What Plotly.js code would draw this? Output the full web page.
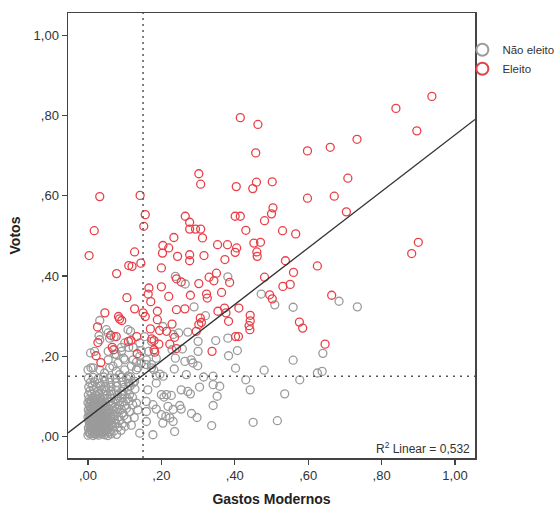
<!DOCTYPE html>
<html><head><meta charset="utf-8">
<script src="https://cdn.plot.ly/plotly-3.0.1.min.js"></script>
<style>html,body{margin:0;padding:0;background:#fff}</style>
</head><body><div id="chart" style="width:555px;height:509px"></div>
<script>
// Eleito (red)
const eleitoX = [
0.937,0.839,0.896,0.733,0.660,0.598,0.708,0.671,0.598,0.415,
0.463,0.457,0.302,0.307,0.404,0.459,0.449,0.502,0.032,0.142,
0.017,0.003,0.156,0.152,0.127,0.144,0.265,0.277,0.277,0.293,
0.307,0.312,0.234,0.204,0.220,0.203,0.244,0.277,0.277,0.316,
0.353,0.380,0.405,0.401,0.452,0.470,0.460,0.461,0.430,0.401,
0.415,0.504,0.500,0.481,0.530,0.566,0.704,0.900,0.882,0.538,
0.625,0.560,0.531,0.551,0.495,0.502,0.664,0.576,0.585,0.646,
0.373,0.200,0.241,0.254,0.302,0.330,0.350,0.343,0.386,0.481,
0.200,0.220,0.279,0.323,0.325,0.364,0.189,0.241,0.264,0.354,
0.372,0.376,0.411,0.383,0.189,0.229,0.195,0.214,0.306,0.309,
0.302,0.295,0.236,0.193,0.223,0.241,0.338,0.402,0.410,0.442,
0.442,0.439,0.441,0.111,0.120,0.078,0.166,0.164,0.171,0.106,
0.127,0.150,0.156,0.046,0.083,0.086,0.092,0.026,0.027,0.022,
0.035,0.062,0.077,0.133,0.110,0.117,0.066,0.070,0.134,0.170,
0.174,0.180,0.180,0.182
];
const eleitoY = [
0.848,0.818,0.762,0.741,0.721,0.712,0.644,0.599,0.594,0.795,
0.778,0.707,0.655,0.629,0.623,0.634,0.618,0.635,0.598,0.601,
0.513,0.451,0.553,0.524,0.460,0.432,0.549,0.534,0.517,0.517,
0.517,0.495,0.496,0.476,0.470,0.457,0.449,0.453,0.438,0.451,
0.478,0.478,0.470,0.459,0.482,0.484,0.460,0.449,0.514,0.549,
0.549,0.570,0.555,0.538,0.513,0.505,0.560,0.484,0.456,0.438,
0.425,0.409,0.374,0.379,0.353,0.343,0.352,0.285,0.270,0.230,
0.441,0.420,0.393,0.385,0.381,0.397,0.407,0.388,0.384,0.397,
0.373,0.349,0.352,0.355,0.345,0.359,0.312,0.316,0.318,0.312,
0.320,0.308,0.320,0.287,0.291,0.280,0.264,0.262,0.295,0.284,
0.279,0.262,0.247,0.230,0.230,0.219,0.212,0.249,0.249,0.302,
0.288,0.276,0.266,0.426,0.424,0.406,0.370,0.355,0.336,0.346,
0.318,0.308,0.299,0.308,0.299,0.293,0.289,0.273,0.234,0.201,
0.184,0.252,0.249,0.249,0.237,0.239,0.222,0.216,0.206,0.268,
0.243,0.239,0.216,0.210
];
// Não eleito (gray)
const naoEleitoX = [
0.238,0.265,0.381,0.472,0.509,0.559,0.684,0.734,0.289,0.320,
0.348,0.381,0.407,0.383,0.402,0.480,0.430,0.442,0.450,0.516,
0.536,0.559,0.577,0.640,0.625,0.638,0.341,0.341,0.359,0.352,
0.341,0.337,0.315,0.304,0.286,0.299,0.281,0.300,0.264,0.238,
0.235,0.257,0.229,0.268,0.254,0.272,0.279,0.227,0.200,0.214,
0.207,0.250,0.254,0.282,0.297,0.218,0.232,0.200,0.212,0.223,
0.232,0.204,0.236,0.177,0.186,0.177,0.159,0.159,0.163,0.186,
0.196,0.205,0.173,0.179,0.186,0.186,0.159,0.141,0.132,0.132,
0.123,0.141,0.159,0.116,0.077,0.091,0.055,0.008,0.007,0.032,
0.032,0.030,0.050,0.059,0.091,0.097,0.068,0.086,0.109,0.127,
0.247,0.272,0.300,0.232,0.204,0.071,0.100,0.111,0.123,0.055,
0.073,0.018,0.141,0.145,0.165,0.173,0.154,0.109,0.055,0.000,
0.014,0.032,0.045,0.059,0.077,0.100,0.118,0.136,0.145,0.159,
0.173,0.082,0.100,0.123,
0.000,0.007,0.014,0.021,0.029,0.037,0.045,0.054,0.063,0.078,
0.003,0.010,0.018,0.025,0.033,0.041,0.050,0.059,0.070,0.090,
0.001,0.008,0.016,0.023,0.031,0.040,0.048,0.057,0.067,0.081,0.101,
0.004,0.011,0.019,0.027,0.035,0.044,0.053,0.064,0.076,0.093,0.118,
0.002,0.009,0.017,0.026,0.034,0.042,0.051,0.061,0.072,0.085,0.107,
0.000,0.007,0.015,0.024,0.032,0.041,0.050,0.060,0.071,0.083,0.098,0.126,
0.003,0.011,0.020,0.029,0.038,0.047,0.057,0.068,0.080,0.094,0.113,
0.001,0.009,0.018,0.027,0.036,0.046,0.056,0.066,0.078,0.091,0.105,0.136,
0.004,0.013,0.022,0.031,0.040,0.050,0.061,0.073,0.086,0.100,0.122,
0.000,0.009,0.018,0.028,0.037,0.047,0.058,0.069,0.082,0.096,0.112,0.132,
0.003,0.012,0.021,0.031,0.042,0.053,0.064,0.077,0.091,0.107,0.121,
0.001,0.010,0.020,0.030,0.041,0.052,0.065,0.080,0.096,0.113,
0.005,0.015,0.026,0.037,0.049,0.062,0.076,0.092,0.108,0.128,
0.002,0.012,0.023,0.035,0.048,0.063,0.079,0.098,0.115,
0.006,0.018,0.031,0.045,0.060,0.077,0.094,0.111,
0.001,0.014,0.028,0.043,0.059,0.075,0.091,0.105,0.116,
0.004,0.012,0.020,0.027,0.035,0.043,0.051,
0.006,0.014,0.021,0.029,0.037,0.045,0.053,
0.005,0.013,0.020,0.028,0.036,0.044,0.052,
0.006,0.014,0.022,0.030,0.038,0.047,0.056,
0.004,0.012,0.020,0.029,0.037,0.046,0.055,
0.006,0.015,0.024,0.033,0.042,0.052,
0.005,0.014,0.023,0.032,0.041,0.051,
0.007,0.016,0.025,0.035,0.045,
0.005,0.014,0.023,0.033,0.042,
0.006,0.016,0.026,0.036
];
const naoEleitoY = [
0.399,0.380,0.398,0.355,0.328,0.322,0.337,0.323,0.323,0.301,
0.239,0.245,0.214,0.201,0.170,0.165,0.141,0.116,0.035,0.039,
0.106,0.190,0.141,0.207,0.158,0.162,0.150,0.129,0.125,0.100,
0.077,0.027,0.148,0.123,0.183,0.176,0.191,0.212,0.187,0.195,
0.168,0.218,0.216,0.154,0.116,0.112,0.106,0.102,0.104,0.104,
0.098,0.077,0.068,0.057,0.047,0.075,0.067,0.054,0.050,0.046,
0.037,0.033,0.012,0.079,0.068,0.004,0.087,0.062,0.116,0.151,
0.155,0.150,0.179,0.166,0.195,0.133,0.191,0.200,0.185,0.166,
0.133,0.008,0.037,0.262,0.204,0.212,0.191,0.171,0.208,0.241,
0.289,0.251,0.266,0.245,0.222,0.195,0.175,0.154,0.150,0.137,
0.258,0.260,0.237,0.254,0.274,0.248,0.233,0.222,0.222,0.212,
0.205,0.212,0.233,0.214,0.212,0.237,0.249,0.266,0.258,0.166,
0.171,0.166,0.158,0.171,0.162,0.166,0.175,0.171,0.183,0.179,
0.171,0.183,0.191,0.191,
0.003,0.006,0.002,0.005,0.003,0.007,0.004,0.002,0.006,0.005,
0.012,0.014,0.011,0.015,0.013,0.012,0.014,0.011,0.013,0.015,
0.021,0.023,0.020,0.024,0.022,0.021,0.023,0.020,0.024,0.022,0.025,
0.030,0.032,0.029,0.033,0.031,0.030,0.032,0.029,0.033,0.031,0.028,
0.039,0.041,0.038,0.042,0.040,0.039,0.041,0.038,0.042,0.040,0.043,
0.048,0.050,0.047,0.051,0.049,0.048,0.050,0.047,0.051,0.049,0.052,0.047,
0.057,0.059,0.056,0.060,0.058,0.057,0.059,0.056,0.060,0.058,0.061,
0.066,0.068,0.065,0.069,0.067,0.066,0.068,0.065,0.069,0.067,0.070,0.066,
0.075,0.077,0.074,0.078,0.076,0.075,0.077,0.074,0.078,0.076,0.079,
0.084,0.086,0.083,0.087,0.085,0.084,0.086,0.083,0.087,0.085,0.088,0.083,
0.093,0.095,0.092,0.096,0.094,0.093,0.095,0.092,0.096,0.094,0.097,
0.103,0.105,0.102,0.106,0.104,0.103,0.105,0.102,0.106,0.104,
0.113,0.115,0.112,0.116,0.114,0.113,0.115,0.112,0.116,0.118,
0.123,0.125,0.122,0.126,0.124,0.123,0.125,0.122,0.126,
0.134,0.136,0.133,0.137,0.135,0.134,0.136,0.133,
0.145,0.147,0.144,0.148,0.146,0.145,0.147,0.144,0.148,
0.008,0.009,0.007,0.009,0.008,0.010,0.008,
0.017,0.018,0.016,0.018,0.017,0.019,0.016,
0.026,0.027,0.025,0.027,0.026,0.028,0.025,
0.035,0.036,0.034,0.036,0.035,0.037,0.034,
0.044,0.045,0.043,0.045,0.044,0.046,0.043,
0.053,0.054,0.052,0.054,0.053,0.055,
0.062,0.063,0.061,0.063,0.062,0.064,
0.071,0.072,0.070,0.072,0.071,
0.080,0.081,0.079,0.081,0.080,
0.089,0.090,0.088,0.090
];
const seriesNames = ["Não eleito", "Eleito"];
const tickVals = [0, 0.2, 0.4, 0.6, 0.8, 1.0];
const tickText = [",00", ",20", ",40", ",60", ",80", "1,00"];
const fitIntercept = 0.047;
const fitSlope = 0.705;
const rSquaredText = "0,532";
const refX = 0.15;
const refY = 0.15;
const xRange = [-0.0545, 1.0545];
const yRange = [-0.054, 1.056];

const FONT = "Liberation Sans, Arial, sans-serif";
const GRAY = "rgb(155,155,155)";
const RED = "rgb(232,64,72)";

const traces = [
  {x: naoEleitoX, y: naoEleitoY, type: "scatter", mode: "markers", name: seriesNames[0],
   marker: {symbol: "circle-open", size: 8, color: GRAY, line: {width: 1.3, color: GRAY}}},
  {x: eleitoX, y: eleitoY, type: "scatter", mode: "markers", name: seriesNames[1],
   marker: {symbol: "circle-open", size: 8, color: RED, line: {width: 1.3, color: RED}}},
  {x: xRange, y: xRange.map(v => fitIntercept + fitSlope * v), type: "scatter", mode: "lines",
   showlegend: false, hoverinfo: "skip", line: {color: "#333", width: 1.3}}
];

const axisCommon = {
  tickvals: tickVals, ticktext: tickText, ticks: "outside", ticklen: 5, tickwidth: 1.3,
  tickcolor: "#444", showline: true, mirror: true, linecolor: "#444", linewidth: 1.5,
  showgrid: false, zeroline: false, tickfont: {family: FONT, size: 13, color: "#333"}
};

const layout = {
  width: 555, height: 509,
  margin: {l: 68, r: 80, t: 13, b: 51, autoexpand: false},
  paper_bgcolor: "#fff", plot_bgcolor: "#fff",
  font: {family: FONT, color: "#333"},
  xaxis: Object.assign({}, axisCommon, {range: xRange,
    title: {text: "<b>Gastos Modernos</b>", font: {family: FONT, size: 14, color: "#222"}, standoff: 12}}),
  yaxis: Object.assign({}, axisCommon, {range: yRange,
    title: {text: "<b>Votos</b>", font: {family: FONT, size: 14, color: "#222"}, standoff: 9}}),
  legend: {x: 0.969, xanchor: "left", y: 0.950, yanchor: "top", bgcolor: "rgba(0,0,0,0)",
    font: {family: FONT, size: 11.5, color: "#333"}, itemsizing: "constant", itemwidth: 30,
    tracegroupgap: 0},
  shapes: [
    {type: "line", xref: "x", yref: "paper", x0: refX, x1: refX, y0: 0, y1: 1,
     line: {color: "#555", width: 1.5, dash: "2px,4px"}},
    {type: "line", xref: "paper", yref: "y", x0: 0, x1: 1, y0: refY, y1: refY,
     line: {color: "#555", width: 1.5, dash: "2px,5px"}}
  ],
  annotations: [
    {xref: "paper", yref: "paper", x: 0.992, y: 0.0, xanchor: "right", yanchor: "bottom",
     text: "R<sup>2</sup> Linear = " + rSquaredText, showarrow: false,
     font: {family: FONT, size: 12, color: "#333"}}
  ]
};

Plotly.newPlot("chart", traces, layout, {displayModeBar: false, staticPlot: true});
</script>
</body></html>
